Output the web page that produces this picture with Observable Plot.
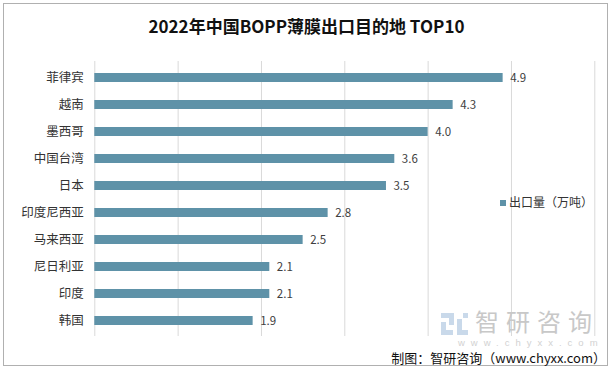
<!DOCTYPE html>
<html><head><meta charset="utf-8">
<script src="https://cdn.jsdelivr.net/npm/d3@7"></script>
<script src="https://cdn.jsdelivr.net/npm/@observablehq/plot@0.6"></script>
<style>
body{margin:0;background:#fff;}
#wrap{position:relative;width:613px;height:371px;font-family:"Noto Sans CJK SC","Noto Sans",sans-serif;color:#404040;overflow:hidden;}
#chart{position:absolute;left:0;top:0;}
.frame{position:absolute;left:3px;top:3px;width:603px;height:361px;border:1.5px solid #b0b0b0;}
.title{position:absolute;left:0;width:613px;top:15px;line-height:22px;text-align:center;font-size:17px;font-weight:bold;color:#111;}
.legend{position:absolute;left:500px;top:193px;line-height:18px;font-size:12px;color:#333;}
.legend i{display:inline-block;width:6px;height:6px;background:#5e92a8;margin-right:3px;vertical-align:1px;}
.wm{position:absolute;left:475px;top:307px;font-size:24px;line-height:27px;letter-spacing:7px;color:#c8c8c8;white-space:nowrap;}
.wm2{position:absolute;left:458px;top:338px;font-size:9.5px;line-height:10px;letter-spacing:6px;color:#d2d2d2;font-family:"Liberation Sans",sans-serif;white-space:nowrap;}
.logo{position:absolute;left:441px;top:313px;width:27px;height:22px;}
.logo b{position:absolute;background:#c9d9ea;}
.caption{position:absolute;right:7px;top:350px;line-height:15px;font-size:13px;color:#111;white-space:nowrap;}
</style></head><body>
<div id="wrap">
 <div id="chart"></div>
 <div class="logo"><b style="left:0;top:0;width:13px;height:5px"></b><b style="left:8px;top:0;width:5px;height:12px"></b><b style="left:0;top:9px;width:5px;height:13px"></b><b style="left:0;top:17px;width:12px;height:5px"></b><b style="left:16px;top:6px;width:5px;height:16px"></b><b style="left:16px;top:17px;width:11px;height:5px"></b><b style="left:22px;top:0;width:5px;height:5px"></b></div>
 <div class="wm">智研咨询</div>
 <div class="wm2">www.chyxx.com</div>
 <div class="frame"></div>
 <div class="title">2022年中国BOPP薄膜出口目的地 TOP10</div>
 <div class="legend"><i></i>出口量（万吨）</div>
 <div class="caption">制图：智研咨询（www.chyxx.com）</div>
</div>
<script>
const countries = ["菲律宾","越南","墨西哥","中国台湾","日本","印度尼西亚","马来西亚","尼日利亚","印度","韩国"];
const values = [4.9, 4.3, 4.0, 3.6, 3.5, 2.8, 2.5, 2.1, 2.1, 1.9];
const gridTicks = [0, 1, 2, 3, 4, 5, 6];
const data = countries.map((c, i) => ({country: c, value: values[i]}));

const chart = Plot.plot({
  width: 613,
  height: 371,
  marginTop: 61,
  marginBottom: 35,
  marginLeft: 94.3,
  marginRight: 18.7,
  style: {fontFamily: '"Noto Sans CJK SC","Noto Sans",sans-serif', color: "#404040", background: "transparent"},
  x: {domain: [0, 6], axis: null},
  y: {domain: countries, paddingInner: 0.67, paddingOuter: 0.35, axis: null},
  marks: [
    Plot.gridX(gridTicks, {stroke: "#d9d9d9", strokeOpacity: 1, strokeWidth: 1}),
    Plot.barX(data, {x: "value", y: "country", fill: "#5e92a8"}),
    Plot.text(data, {x: "value", y: "country", text: d => d.value.toFixed(1), textAnchor: "start", dx: 7, fontSize: 11.5, fill: "#404040"}),
    Plot.axisY({tickSize: 0, tickPadding: 11, fontSize: 12.5, label: null, fill: "#333"})
  ]
});
document.getElementById("chart").appendChild(chart);
</script>
</body></html>
